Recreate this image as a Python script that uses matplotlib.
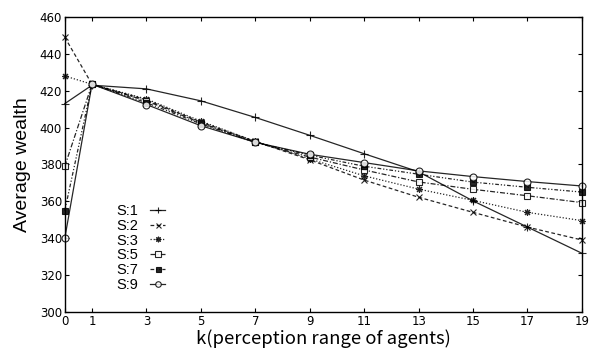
import matplotlib.pyplot as plt
import numpy as np

# k values (perception range of agents)
k = [0, 1, 3, 5, 7, 9, 11, 13, 15, 17, 19]

# average wealth per strategy setting
s1 = [413, 423, 421, 414.5, 405.5, 395.8, 385.8, 376, 360.2, 346, 331.8]
s2 = [449, 423.5, 415, 403, 392.5, 382.5, 371.5, 362.2, 354, 346, 339]
s3 = [428, 423.5, 415.5, 403.5, 392.5, 383, 373.8, 366.6, 360.5, 354, 349.5]
s5 = [379, 423.5, 414.5, 402.5, 392, 384, 377, 370.5, 366.5, 363, 359.3]
s7 = [355, 423.5, 413.5, 402, 392, 385, 379, 374.7, 370.4, 367.6, 365]
s9 = [340, 423.5, 412.5, 401, 392, 385.5, 381, 376.5, 373.4, 370.7, 368.3]

etiquetas = ['S:1', 'S:2', 'S:3', 'S:5', 'S:7', 'S:9']
series = [s1, s2, s3, s5, s7, s9]

# estilos parecidos com o gnuplot
estilos = [
    dict(ls='-', marker='+', ms=6, mfc='k'),
    dict(ls=(0, (3, 2)), marker='x', ms=4.5, mfc='k'),
    dict(ls=(0, (1, 1.5)), marker=(8, 2, 0), ms=5, mfc='k'),
    dict(ls=(0, (4, 1.5, 1, 1.5)), marker='s', ms=5, mfc='white'),
    dict(ls=(0, (3, 1.5, 1, 1.5, 1, 1.5)), marker='s', ms=4.5, mfc='k'),
    dict(ls='-', marker='o', ms=5, mfc='white'),
]

fig = plt.figure(figsize=(5.89, 3.54), dpi=100)
ax = fig.add_axes([0.110, 0.119, 0.878, 0.833])

for y, lab, st in zip(series, etiquetas, estilos):
    ax.plot(k, y, color='k', lw=0.9, mec='k', mew=0.8, label=lab,
            alpha=0.85, clip_on=False, **st)

ax.set_xlim(0, 19)
ax.set_ylim(300, 460)
ax.set_xticks(k)
ax.set_yticks(np.arange(300, 461, 20))
ax.tick_params(direction='in', top=True, right=True, labelsize=8.5,
               length=3, width=0.8, pad=2)
for lb in ax.get_xticklabels() + ax.get_yticklabels():
    lb.set_family('Liberation Sans Narrow')

for s in ax.spines.values():
    s.set_linewidth(1.0)

ax.set_xlabel('k(perception range of agents)', family='Noto Sans CJK JP',
              fontsize=13.3, labelpad=1)
ax.set_ylabel('Average wealth', family='Liberation Sans', fontsize=14,
              labelpad=6)

leg = ax.legend(loc='upper left', bbox_to_anchor=(0.075, 0.41), frameon=False,
                markerfirst=False, handlelength=1.0, handletextpad=0.8,
                labelspacing=0.05, markerscale=0.8,
                prop={'family': 'Liberation Sans', 'size': 10.5})

fig.savefig('out.png', dpi=100)
